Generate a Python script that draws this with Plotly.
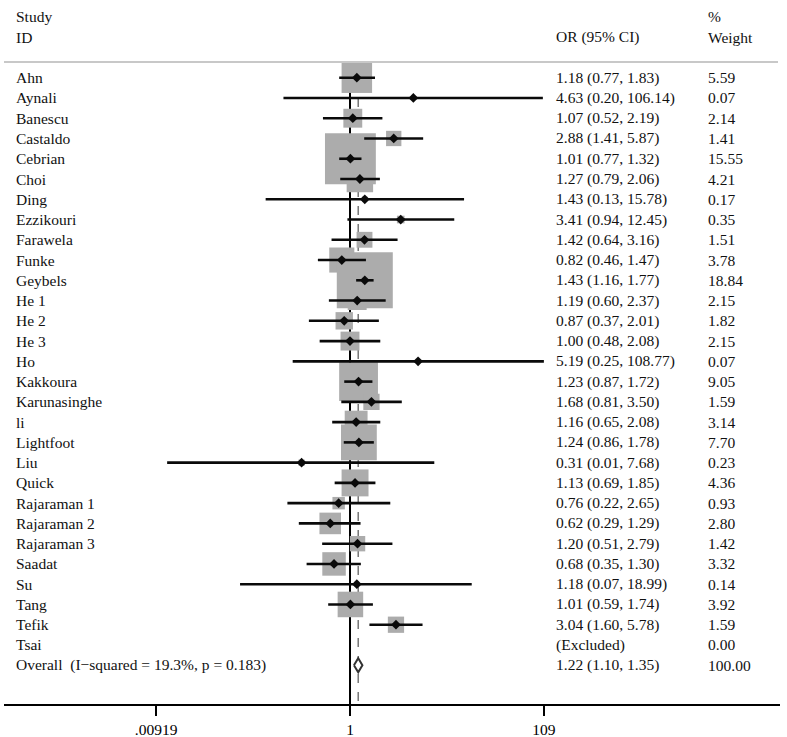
import numpy as np
import plotly.graph_objects as go

studies = ['Ahn', 'Aynali', 'Banescu', 'Castaldo', 'Cebrian', 'Choi', 'Ding', 'Ezzikouri',
           'Farawela', 'Funke', 'Geybels', 'He 1', 'He 2', 'He 3', 'Ho', 'Kakkoura',
           'Karunasinghe', 'li', 'Lightfoot', 'Liu', 'Quick', 'Rajaraman 1', 'Rajaraman 2',
           'Rajaraman 3', 'Saadat', 'Su', 'Tang', 'Tefik', 'Tsai']
odds = [1.18, 4.63, 1.07, 2.88, 1.01, 1.27, 1.43, 3.41, 1.42, 0.82, 1.43, 1.19, 0.87, 1.00,
        5.19, 1.23, 1.68, 1.16, 1.24, 0.31, 1.13, 0.76, 0.62, 1.20, 0.68, 1.18, 1.01, 3.04, None]
ci_low = [0.77, 0.20, 0.52, 1.41, 0.77, 0.79, 0.13, 0.94, 0.64, 0.46, 1.16, 0.60, 0.37, 0.48,
          0.25, 0.87, 0.81, 0.65, 0.86, 0.012, 0.69, 0.22, 0.29, 0.51, 0.35, 0.07, 0.59, 1.60, None]
ci_high = [1.83, 106.14, 2.19, 5.87, 1.32, 2.06, 15.78, 12.45, 3.16, 1.47, 1.77, 2.37, 2.01, 2.08,
           108.77, 1.72, 3.50, 2.08, 1.78, 7.68, 1.85, 2.65, 1.29, 2.79, 1.30, 18.99, 1.74, 5.78, None]
weights = [5.59, 0.07, 2.14, 1.41, 15.55, 4.21, 0.17, 0.35, 1.51, 3.78, 18.84, 2.15, 1.82, 2.15,
           0.07, 9.05, 1.59, 3.14, 7.70, 0.23, 4.36, 0.93, 2.80, 1.42, 3.32, 0.14, 3.92, 1.59, 0.00]
overall_label = 'Overall\u00a0 (I\u2212squared = 19.3%, p = 0.183)'
overall = [1.22, 1.10, 1.35]
overall_weight = 100.00
tick_vals = [0.00919, 1, 109]
tick_text = ['.00919', '1', '109']

FONT = 'Liberation Serif'
FSIZE = 15.5
rows = list(range(1, len(studies) + 1))
row_overall = len(studies) + 1

# x axis is linear in log10 units
px_per_dec = 95.2
x_left = (4 - 350) / px_per_dec
x_right = (780 - 350) / px_per_dec
x_name = (14 - 350) / px_per_dec
x_or = (554 - 350) / px_per_dec
x_wt = (706 - 350) / px_per_dec

fig = go.Figure()

# weight boxes
bx, by, bs = [], [], []
for r, o, w in zip(rows, odds, weights):
    if o is None or w <= 0:
        continue
    bx.append(np.log10(o))
    by.append(r)
    bs.append(12.9 * np.sqrt(w))
fig.add_trace(go.Scatter(x=bx, y=by, mode='markers',
                         marker=dict(symbol='square', size=bs, color='#acacac', opacity=1,
                                     line=dict(width=0)),
                         hoverinfo='skip', showlegend=False))

# confidence intervals
lx, ly = [], []
for r, lo, hi in zip(rows, ci_low, ci_high):
    if lo is None:
        continue
    lx += [np.log10(lo), np.log10(hi), None]
    ly += [r, r, None]
fig.add_trace(go.Scatter(x=lx, y=ly, mode='lines', line=dict(color='#0a0a0a', width=2.6),
                         hoverinfo='skip', showlegend=False))

# point estimates
px_ = [np.log10(o) for o in odds if o is not None]
py_ = [r for r, o in zip(rows, odds) if o is not None]
fig.add_trace(go.Scatter(x=px_, y=py_, mode='markers',
                         marker=dict(symbol='diamond', size=7.5, color='#0a0a0a', opacity=1),
                         showlegend=False))

# overall diamond
lo_o, mid_o, hi_o = [np.log10(v) for v in (overall[1], overall[0], overall[2])]
fig.add_trace(go.Scatter(x=[lo_o, mid_o, hi_o, mid_o, lo_o],
                         y=[row_overall, row_overall - 0.35, row_overall, row_overall + 0.35, row_overall],
                         mode='lines', fill='toself', fillcolor='white',
                         line=dict(color='#333333', width=2), hoverinfo='skip', showlegend=False))

y_top = 0.22
y_bottom = 1 + (704 - 77.7) / 20.26
fig.add_shape(type='line', x0=0, x1=0, y0=y_top, y1=y_bottom, layer='below',
              line=dict(color='black', width=2))
fig.add_shape(type='line', x0=mid_o, x1=mid_o, y0=y_top, y1=y_bottom, layer='below',
              line=dict(color='#777777', width=1.5, dash='dash'))
fig.add_shape(type='line', xref='paper', x0=0, x1=(778 - 4) / 776, y0=y_top, y1=y_top,
              line=dict(color='#c8c8c8', width=2))

ann = []


def txt(x, y, s):
    ann.append(dict(x=x, y=y, xref='x', yref='y', text=s, showarrow=False, xanchor='left',
                    yanchor='middle', font=dict(family=FONT, size=FSIZE, color='#111111')))


txt(x_name, -2, 'Study')
txt(x_name, -1, 'ID')
txt(x_or, -1, 'OR (95% CI)')
txt(x_wt, -2, '%')
txt(x_wt, -1, 'Weight')

for r, name, o, lo, hi, w in zip(rows, studies, odds, ci_low, ci_high, weights):
    txt(x_name, r, name)
    if o is None:
        txt(x_or, r, '(Excluded)')
    else:
        txt(x_or, r, f'{o:.2f} ({lo:.2f}, {hi:.2f})')
    txt(x_wt, r, f'{w:.2f}')

txt(x_name, row_overall, overall_label)
txt(x_or, row_overall, f'{overall[0]:.2f} ({overall[1]:.2f}, {overall[2]:.2f})')
txt(x_wt, row_overall, f'{overall_weight:.2f}')

fig.update_layout(
    width=787, height=737,
    margin=dict(l=4, r=7, t=0, b=33),
    paper_bgcolor='white', plot_bgcolor='white',
    annotations=ann,
    showlegend=False,
)
fig.update_xaxes(range=[x_left, x_right], showgrid=False, zeroline=False,
                 showline=True, linecolor='black', linewidth=2,
                 ticks='outside', ticklen=10, tickwidth=2, tickcolor='black',
                 tickvals=[np.log10(v) for v in tick_vals], ticktext=tick_text,
                 tickfont=dict(family=FONT, size=FSIZE, color='black'))
fig.update_yaxes(range=[y_bottom, 1 - 77.7 / 20.26], showgrid=False, zeroline=False,
                 showticklabels=False, showline=False)

fig.write_html('out.html', config={'displayModeBar': False},
               post_script="document.body.style.margin='0';")
